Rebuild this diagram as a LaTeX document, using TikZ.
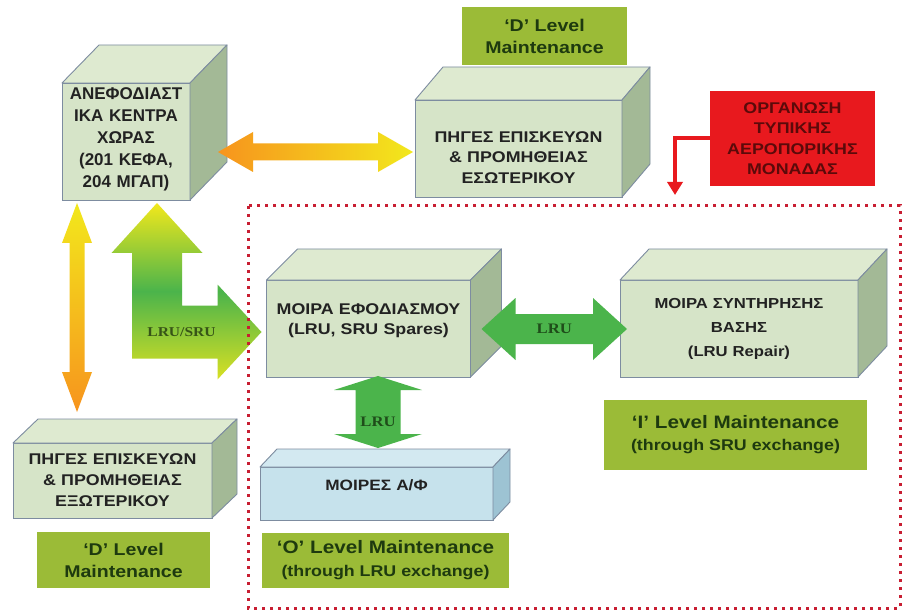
\documentclass[tikz,border=0pt]{standalone}
\usepackage{fontspec}
\setmainfont{Liberation Serif}
\setsansfont{Liberation Sans}
\newfontfamily\boxfont{Liberation Sans}[FakeStretch=1.15]
\newfontfamily\arrfont{Liberation Serif}[FakeStretch=1.15]
\usetikzlibrary{arrows.meta}

\definecolor{cubefront}{HTML}{D6E4C8}
\definecolor{cubetopc}{HTML}{DEEAD0}
\definecolor{cubesidec}{HTML}{A3B996}
\definecolor{cubeedge}{HTML}{7D8CA0}
\definecolor{cubetext}{HTML}{222222}
\definecolor{bluefront}{HTML}{C6E2EC}
\definecolor{bluetopc}{HTML}{D3E9F1}
\definecolor{bluesidec}{HTML}{9DC3D3}
\definecolor{levelgreen}{HTML}{9BBB37}
\definecolor{leveltext}{HTML}{1E3A0F}
\definecolor{orgred}{HTML}{E8191E}
\definecolor{orgtext}{HTML}{5B0A0A}
\definecolor{framered}{HTML}{C81E32}
\definecolor{arrorange}{HTML}{F7941D}
\definecolor{arryellow}{HTML}{F2E81C}
\definecolor{arrgreen}{HTML}{4BB44B}
\definecolor{arrtext}{HTML}{1F4D1A}

% top and side faces of a box drawn on a front node
\newcommand\cubefaces[4]{%
  \draw[#3] (#1.north west) -- ([shift={#2}]#1.north west) -- ([shift={#2}]#1.north east) -- (#1.north east) -- cycle;
  \draw[#4] (#1.north east) -- ([shift={#2}]#1.north east) -- ([shift={#2}]#1.south east) -- (#1.south east) -- cycle;
}
% block arrows: style, tip, tip, shaft half, head half, head length
\newcommand\hblock[6]{%
  \path[#1] (#2) -- ([shift={(#6,-#5)}]#2) -- ([shift={(#6,-#4)}]#2) -- ([shift={(-#6,-#4)}]#3) -- ([shift={(-#6,-#5)}]#3) -- (#3)
    -- ([shift={(-#6,#5)}]#3) -- ([shift={(-#6,#4)}]#3) -- ([shift={(#6,#4)}]#2) -- ([shift={(#6,#5)}]#2) -- cycle;
}
\newcommand\vblock[6]{%
  \path[#1] (#2) -- ([shift={(#5,#6)}]#2) -- ([shift={(#4,#6)}]#2) -- ([shift={(#4,-#6)}]#3) -- ([shift={(#5,-#6)}]#3) -- (#3)
    -- ([shift={(-#5,-#6)}]#3) -- ([shift={(-#4,-#6)}]#3) -- ([shift={(-#4,#6)}]#2) -- ([shift={(-#5,#6)}]#2) -- cycle;
}

\tikzset{
  cube/.style={draw=cubeedge, line width=0.9pt, fill=cubefront, outer sep=0pt, inner sep=2pt, align=center, text=cubetext},
  cubetop/.style={draw=cubeedge, line width=0.9pt, fill=cubetopc, line join=round},
  cubeside/.style={draw=cubeedge, line width=0.9pt, fill=cubesidec, line join=round},
  bluecube/.style={cube, fill=bluefront},
  bluetop/.style={cubetop, fill=bluetopc},
  blueside/.style={cubeside, fill=bluesidec},
  levelbox/.style={fill=levelgreen, outer sep=0pt, align=center, text=leveltext},
  orgbox/.style={fill=orgred, outer sep=0pt, align=center, text=orgtext},
  arrowlabel/.style={font=\arrfont\bfseries\fontsize{14.5}{16}\selectfont, text=arrtext},
  redarrow/.style={draw=orgred, line width=4pt, -{Triangle[width=15pt,length=13pt]}},
  dotframe/.style={draw=framered, line width=3pt, dash pattern=on 3pt off 5pt},
}

\begin{document}
\begin{tikzpicture}[x=1pt,y=-1pt]
\useasboundingbox[fill=white] (0,0) rectangle (904,612);

% boxes
\node[cube, minimum width=128pt, minimum height=117pt, text width=124pt, font=\sffamily\bfseries\fontsize{17}{22}\selectfont, execute at end node={\par\vspace*{5pt}}] (anef) at (126,141.5) {ΑΝΕΦΟΔΙΑΣΤ\\ΙΚΑ ΚΕΝΤΡΑ\\ΧΩΡΑΣ\\(201 ΚΕΦΑ,\\204 ΜΓΑΠ)};
\cubefaces{anef}{(37,-38)}{cubetop}{cubeside}

\node[cube, minimum width=207pt, minimum height=97pt, text width=200pt, font=\boxfont\bfseries\fontsize{15.5}{20.5}\selectfont, execute at end node={\par\vspace*{-18pt}}] (esot) at (518.5,148.5) {ΠΗΓΕΣ ΕΠΙΣΚΕΥΩΝ\\\& ΠΡΟΜΗΘΕΙΑΣ\\ΕΣΩΤΕΡΙΚΟΥ};
\cubefaces{esot}{(28,-33)}{cubetop}{cubeside}

\node[cube, minimum width=173pt, minimum height=97pt, text width=200pt, font=\boxfont\bfseries\fontsize{15.5}{20}\selectfont, execute at end node={\par\vspace*{16pt}}] (efod) at (368.5,328.5) {ΜΟΙΡΑ ΕΦΟΔΙΑΣΜΟΥ\\(LRU, SRU Spares)};
\cubefaces{efod}{(31,-31)}{cubetop}{cubeside}

\node[cube, minimum width=238pt, minimum height=97pt, text width=230pt, font=\boxfont\bfseries\fontsize{14.5}{24}\selectfont] (synt) at (739,328.5) {ΜΟΙΡΑ ΣΥΝΤΗΡΗΣΗΣ\\ΒΑΣΗΣ\\(LRU Repair)};
\cubefaces{synt}{(29,-31)}{cubetop}{cubeside}

\node[cube, minimum width=199pt, minimum height=75pt, text width=195pt, font=\boxfont\bfseries\fontsize{15.5}{21}\selectfont] (exot) at (112.5,480.5) {ΠΗΓΕΣ ΕΠΙΣΚΕΥΩΝ\\\& ΠΡΟΜΗΘΕΙΑΣ\\ΕΞΩΤΕΡΙΚΟΥ};
\cubefaces{exot}{(25,-24)}{cubetop}{cubeside}

\node[bluecube, minimum width=233pt, minimum height=53pt, text width=225pt, font=\boxfont\bfseries\fontsize{15}{20}\selectfont, execute at end node={\par\vspace*{16pt}}] (moires) at (376.5,493.5) {ΜΟΙΡΕΣ Α/Φ};
\cubefaces{moires}{(17,-18)}{bluetop}{blueside}

% maintenance levels
\node[levelbox, minimum width=165pt, minimum height=58pt, font=\boxfont\bfseries\fontsize{17}{22}\selectfont] (dlevtop) at (544.5,36) {‘D’ Level\\Maintenance};
\node[levelbox, minimum width=173pt, minimum height=56pt, font=\boxfont\bfseries\fontsize{17}{22}\selectfont] (dlevbot) at (123.5,560) {‘D’ Level\\Maintenance};
\node[levelbox, minimum width=263pt, minimum height=70pt, font=\boxfont\bfseries\fontsize{18}{22}\selectfont] (ilev) at (735.5,435) {‘I’ Level Maintenance\\{\fontsize{15.5}{22}\selectfont(through SRU exchange)}};
\node[levelbox, minimum width=247pt, minimum height=55pt, font=\boxfont\bfseries\fontsize{18}{23}\selectfont] (olev) at (385.5,560.5) {‘O’ Level Maintenance\\{\fontsize{15.5}{23}\selectfont(through LRU exchange)}};

\node[orgbox, minimum width=165pt, minimum height=95pt, font=\boxfont\bfseries\fontsize{15.5}{20.5}\selectfont] (org) at (792.5,138.5) {ΟΡΓΑΝΩΣΗ\\ΤΥΠΙΚΗΣ\\ΑΕΡΟΠΟΡΙΚΗΣ\\ΜΟΝΑΔΑΣ};

% arrow ends
\coordinate (oa1) at ([shift={(28,10.5)}]anef.east);
\coordinate (oa2) at ([shift={(-2,3.5)}]esot.west);
\coordinate (va1) at ([shift={(-49,3)}]anef.south);
\coordinate (va2) at ([shift={(-35.5,-31)}]exot.north);
\coordinate (lu) at ([shift={(31,3)}]anef.south);
\coordinate (lr) at ([shift={(-5,3.5)}]efod.west);
\coordinate (gh1) at ([shift={(11,0.5)}]efod.east);
\coordinate (gh2) at ([shift={(7,0.5)}]synt.west);
\coordinate (gv1) at ([shift={(9.5,-1)}]efod.south);
\coordinate (gv2) at ([shift={(1.5,-19)}]moires.north);

\hblock{left color=arrorange, right color=arryellow}{oa1}{oa2}{8.5}{20}{35}
\vblock{top color=arryellow, bottom color=arrorange}{va1}{va2}{7.5}{15}{40}
\hblock{fill=arrgreen}{gh1}{gh2}{15}{31}{34}
\vblock{fill=arrgreen}{gv1}{gv2}{22.5}{44}{14}

% bent arrow
\shade[top color=arryellow, bottom color=arryellow!85!arrgreen, middle color=arrgreen]
  (lu) -- ++(45.5,50) -- ++(-20.5,0) |- ([shift={(-44,-26.5)}]lr) -- ++(0,-21) -- (lr)
  -- ++(-44,47.5) -- ++(0,-21) -| ([shift={(-25,50)}]lu) -- ++(-20.5,0) -- cycle;

\node[arrowlabel, text=leveltext!80!levelgreen, font=\arrfont\bfseries\fontsize{13.5}{16}\selectfont] (lrusru) at ([xshift=-80pt]lr) {LRU/SRU};
\path (gh1) -- (gh2) node[arrowlabel, midway] (lruh) {LRU};
\path (gv1) -- (gv2) node[arrowlabel, pos=0.64] (lruv) {LRU};

\draw[redarrow] (org.west) -| ([shift={(-35,9)}]org.south west);

% squadron limits
\draw[dotframe] (248,206) rectangle (900,608);
\end{tikzpicture}
\end{document}
